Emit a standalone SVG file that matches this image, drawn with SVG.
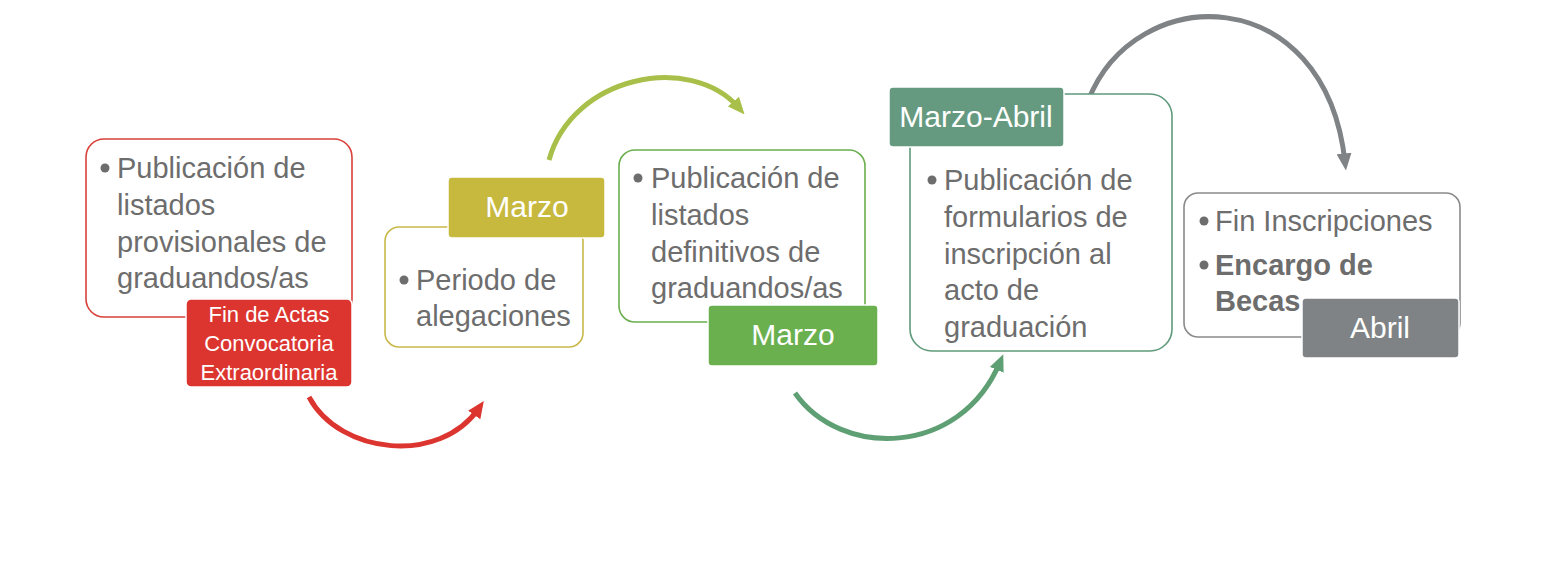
<svg xmlns="http://www.w3.org/2000/svg" width="1546" height="562" viewBox="0 0 1546 562">
<style>
.body{font-family:"Liberation Sans",Arial,sans-serif;font-size:29px;fill:#6d6d6d}
.bold{font-weight:bold}
.lbl{font-family:"Liberation Sans",Arial,sans-serif;font-size:30px;fill:#ffffff;text-anchor:middle}
.lbls{font-family:"Liberation Sans",Arial,sans-serif;font-size:22px;fill:#ffffff;text-anchor:middle}
.box{fill:#ffffff;stroke-width:1.6}
.tag{stroke:#ffffff;stroke-width:1.5}
.bul{fill:#6d6d6d}
.arc{fill:none;stroke-width:5}
</style>
<defs>
<marker id="mr" viewBox="0 0 16 14" refX="8" refY="7" markerWidth="17" markerHeight="15" markerUnits="userSpaceOnUse" orient="auto"><path d="M0,0 L16,7 L0,14 z" fill="#dc3530"/></marker>
<marker id="my" viewBox="0 0 16 14" refX="8" refY="7" markerWidth="17" markerHeight="15" markerUnits="userSpaceOnUse" orient="auto"><path d="M0,0 L16,7 L0,14 z" fill="#a8c04a"/></marker>
<marker id="mg" viewBox="0 0 16 14" refX="8" refY="7" markerWidth="17" markerHeight="15" markerUnits="userSpaceOnUse" orient="auto"><path d="M0,0 L16,7 L0,14 z" fill="#5f9f74"/></marker>
<marker id="mk" viewBox="0 0 16 14" refX="8" refY="7" markerWidth="17" markerHeight="15" markerUnits="userSpaceOnUse" orient="auto"><path d="M0,0 L16,7 L0,14 z" fill="#7f8386"/></marker>
</defs>
<rect width="1546" height="562" fill="#ffffff"/>

<g id="connectors">
<path class="arc" stroke="#dc3530" d="M309,397 C340,455 440,465 479,408" marker-end="url(#mr)"/>
<path class="arc" stroke="#a8c04a" d="M549,160 C572,76 690,52 739,108" marker-end="url(#my)"/>
<path class="arc" stroke="#5f9f74" d="M795,393 C840,458 960,458 1000,362" marker-end="url(#mg)"/>
<path class="arc" stroke="#7f8386" d="M1088,101 C1135,-20 1325,-20 1345,162" marker-end="url(#mk)"/>
</g>

<g id="node1">
<rect class="box" x="86" y="139" width="266" height="178" rx="18" stroke="#d9403a"/>
<circle class="bul" cx="105" cy="168" r="4.5"/>
<text class="body"><tspan x="117" y="178">Publicación de</tspan><tspan x="117" y="215">listados</tspan><tspan x="117" y="252">provisionales de</tspan><tspan x="117" y="288">graduandos/as</tspan></text>
<rect class="tag" x="186" y="299" width="166" height="88" rx="5" fill="#dc3530"/>
<text class="lbls"><tspan x="269" y="322">Fin de Actas</tspan><tspan x="269" y="351">Convocatoria</tspan><tspan x="269" y="380">Extraordinaria</tspan></text>
</g>

<g id="node2">
<rect class="box" x="385" y="227" width="198" height="120" rx="14" stroke="#c9b94a"/>
<circle class="bul" cx="404" cy="280" r="4.5"/>
<text class="body"><tspan x="416" y="290">Periodo de</tspan><tspan x="416" y="326">alegaciones</tspan></text>
<rect class="tag" x="448" y="177" width="157" height="61" rx="4" fill="#c7b83e"/>
<text class="lbl" x="527" y="217">Marzo</text>
</g>

<g id="node3">
<rect class="box" x="619" y="150" width="246" height="172" rx="16" stroke="#6aae4e"/>
<circle class="bul" cx="638" cy="178" r="4.5"/>
<text class="body"><tspan x="651" y="188">Publicación de</tspan><tspan x="651" y="225">listados</tspan><tspan x="651" y="262">definitivos de</tspan><tspan x="651" y="298">graduandos/as</tspan></text>
<rect class="tag" x="708" y="305" width="170" height="61" rx="4" fill="#6ab04f"/>
<text class="lbl" x="793" y="345">Marzo</text>
</g>

<g id="node4">
<rect class="box" x="910" y="94" width="262" height="257" rx="22" stroke="#5f9a7c"/>
<circle class="bul" cx="932" cy="180" r="4.5"/>
<text class="body"><tspan x="944" y="190">Publicación de</tspan><tspan x="944" y="227">formularios de</tspan><tspan x="944" y="264">inscripción al</tspan><tspan x="944" y="300">acto de</tspan><tspan x="944" y="337">graduación</tspan></text>
<rect class="tag" x="889" y="87" width="175" height="60" rx="4" fill="#669a80"/>
<text class="lbl" x="976" y="127">Marzo-Abril</text>
</g>

<g id="node5">
<rect class="box" x="1184" y="193" width="276" height="144" rx="14" stroke="#8a8a8a"/>
<circle class="bul" cx="1204" cy="221" r="4.5"/>
<text class="body" x="1215" y="231">Fin Inscripciones</text>
<circle class="bul" cx="1204" cy="265" r="4.5"/>
<text class="body bold"><tspan x="1215" y="275">Encargo de</tspan><tspan x="1215" y="311">Becas</tspan></text>
<rect class="tag" x="1302" y="298" width="157" height="60" rx="4" fill="#7f8386"/>
<text class="lbl" x="1380" y="338">Abril</text>
</g>
</svg>
